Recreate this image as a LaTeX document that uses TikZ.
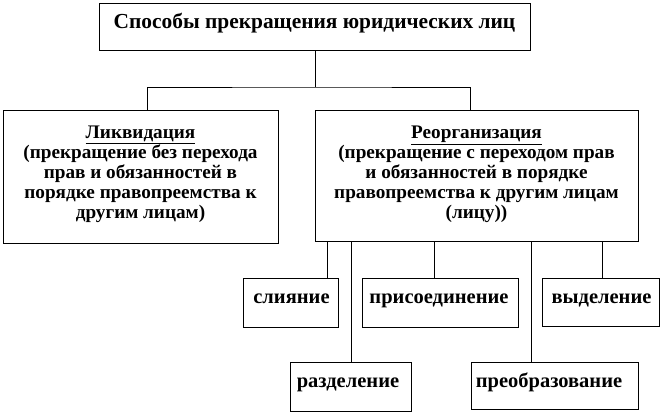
\documentclass[tikz,border=0pt]{standalone}
\usepackage{fontspec}
\setmainfont{Liberation Serif}
\begin{document}
\begin{tikzpicture}[x=1pt,y=-1pt,
  box/.style={draw, line width=1pt, inner sep=0pt},
  conn/.style={draw, line width=1pt},
  ttl/.style={font=\bfseries\fontsize{21.4}{24}\selectfont, inner sep=0pt, anchor=base},
  big/.style={font=\bfseries\fontsize{19.2}{20}\selectfont, align=center, inner sep=0pt},
  small/.style={font=\bfseries\fontsize{20.5}{22}\selectfont, inner sep=0pt, anchor=base}]
\useasboundingbox (0,0) rectangle (666,415);
% boxes
\node[box, minimum width=431pt, minimum height=47pt] (top) at (314.5,26.5) {};
\node[box, minimum width=275pt, minimum height=133pt] (liq) at (140.5,176.5) {};
\node[box, minimum width=323pt, minimum height=131pt] (reo) at (476.5,175.5) {};
\node[box, minimum width=95pt, minimum height=49pt] (sli) at (290.5,302.5) {};
\node[box, minimum width=156pt, minimum height=49pt] (pri) at (440,302.5) {};
\node[box, minimum width=117pt, minimum height=48pt] (vyd) at (600.5,302) {};
\node[box, minimum width=121pt, minimum height=49pt] (raz) at (350.5,386.5) {};
\node[box, minimum width=167pt, minimum height=47pt] (pre) at (554.5,385.5) {};
% texts
\node[ttl] (topt) at (314.5,28) {Способы прекращения юридических лиц};
\node[big] (liqt) at (140.5,174.5) {\underline{Ликвидация}\\(прекращение без перехода\\прав и обязанностей в\\порядке правопреемства к\\другим лицам)};
\node[big] (reot) at (476.5,174) {\underline{Реорганизация}\\(прекращение с переходом прав\\и обязанностей в порядке\\правопреемства к другим лицам\\(лицу))};
\node[small] (slit) at (291.5,303) {слияние};
\node[small] (prit) at (439,303) {присоединение};
\node[small] (vydt) at (601.5,303) {выделение};
\node[small] (razt) at (348,387) {разделение};
\node[small] (pret) at (549,387) {преобразование};
% connectors
\coordinate (j) at (315,87);
\draw[conn] (top.south -| j) -- (j);
\draw[conn] (liq.north -| 147,0) |- (j) -| (reo.north -| 470,0);
\draw[conn] (reo.south -| 327,0) -- (sli.north -| 327,0);
\draw[conn] (reo.south -| 351,0) -- (raz.north -| 351,0);
\draw[conn] (reo.south -| 434,0) -- (pri.north -| 434,0);
\draw[conn] (reo.south -| 531,0) -- (pre.north -| 531,0);
\draw[conn] (reo.south -| 602,0) -- (vyd.north -| 602,0);
\end{tikzpicture}
\end{document}
